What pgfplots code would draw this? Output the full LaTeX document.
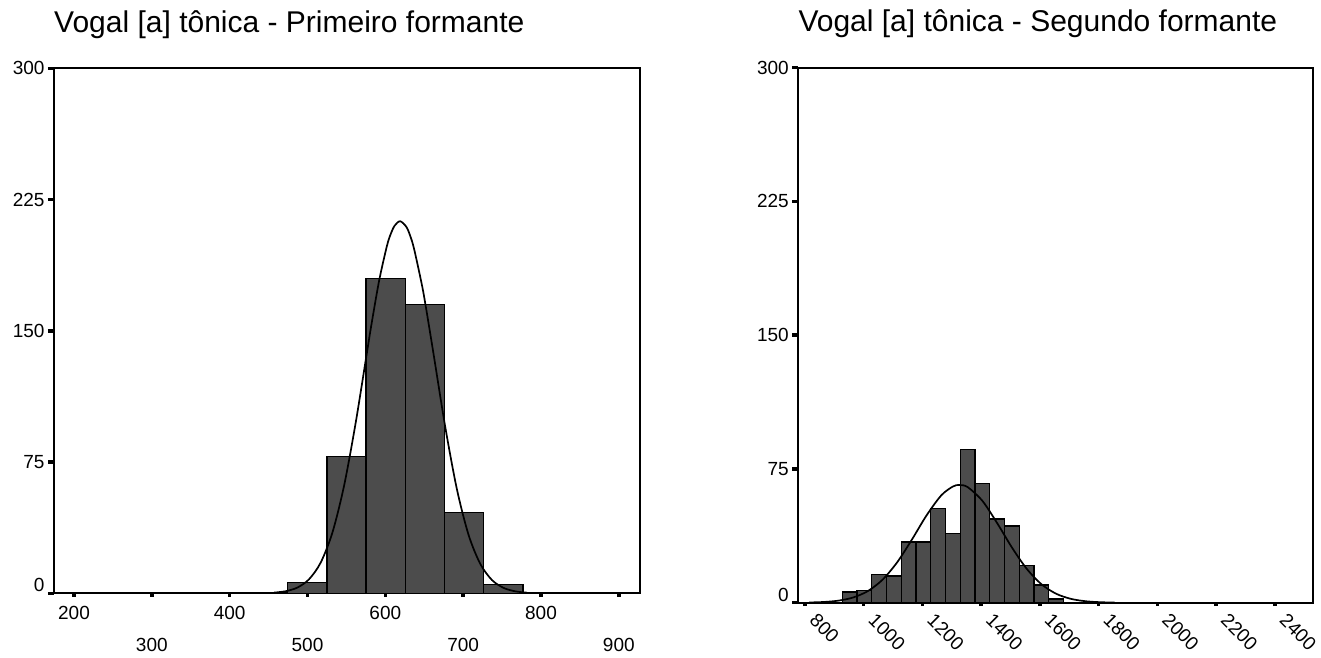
\documentclass[border=0pt]{standalone}
\usepackage{fontspec}
\setmainfont{Liberation Sans}
\usepackage{pgfplots}
\pgfplotsset{compat=1.18}
\pgfplotsset{
  spssaxis/.style={
    scale only axis,
    axis line style={line width=2pt},
    tick align=outside,
    xtick pos=bottom, ytick pos=left,
    major tick length=6pt,
    x tick style={line width=3.5pt, black, dash pattern=on 0pt off 2.5pt on 3.5pt},
    y tick style={line width=3.5pt, black},
    tick label style={font=\fontsize{19}{22}\selectfont},
    /pgf/number format/assume math mode=true,
    /pgf/number format/1000 sep={},
    title style={font=\fontsize{30}{36}\selectfont, at={(rel axis cs:0,1)}, anchor=base west, yshift=30pt, inner sep=0pt},
    ymin=0, ymax=300,
    ytick={75,150,225,300},
    extra y ticks={0},
    extra y tick style={tick label style={yshift=8pt}},
    clip=false,
  },
  barstyle/.style={ybar interval, fill=black!70, draw=black, line width=1.3pt},
  curvestyle/.style={black, line width=1.7pt, smooth, mark=none},
}
\begin{document}
\begin{tikzpicture}
\path[use as bounding box] (0pt,0pt) rectangle (1321pt,657pt);
% Left: first formant
\begin{axis}[spssaxis,
  at={(54pt,63.7pt)}, anchor=south west,
  width=586pt, height=525pt,
  xmin=174.3, xmax=927.2,
  xtick={200,400,600,800},
  xticklabel style={yshift=-3pt},
  extra x ticks={300,500,700,900},
  extra x tick style={tick label style={inner sep=0pt, yshift=-36pt}},
  title={Vogal [a] tônica - Primeiro formante},
]
\addplot[barstyle] coordinates {(474.6,6) (525,78) (575.3,180) (625.6,165) (676,46) (726.4,5) (776.7,5)};
\addplot[curvestyle] coordinates {(457,0.40) (472,1.20) (487,3.28) (502,8.03) (517,17.6) (532,34.7) (547,61.5) (562,97.7) (577,139.4) (582,153.2) (592,178.6) (602,198.4) (607,205.4) (612,210.1) (619,212.6) (627,209.4) (632,204.2) (637,196.7) (647,176.2) (652,163.8) (662,136.6) (677,95.0) (692,59.4) (707,33.3) (722,16.8) (737,7.58) (752,3.08) (767,1.12) (782,0.37)};
\end{axis}
% Right: second formant
\begin{axis}[spssaxis,
  at={(798.3pt,54.3pt)}, anchor=south west,
  width=515pt, height=535pt,
  xmin=777.2, xmax=2530.7,
  xtick={800,1000,1200,1400,1600,1800,2000,2200,2400},
  xticklabel style={xshift=13pt, yshift=-2pt, rotate=-45, anchor=north west, inner sep=1pt},
  title={Vogal [a] tônica - Segundo formante},
]
\addplot[barstyle] coordinates {(927,6) (977.2,7) (1027.4,16) (1077.6,15) (1127.8,34) (1178,34) (1228.2,53) (1278.4,39) (1328.6,86) (1378.8,67) (1429,47) (1479.2,43) (1529.4,21) (1579.6,10) (1629.8,2) (1680,2)};
\addplot[curvestyle] coordinates {(814,0.13) (864,0.41) (914,1.16) (964,2.93) (1014,6.52) (1064,12.9) (1114,22.7) (1164,35.4) (1214,49.0) (1264,60.2) (1304,65.2) (1326,66) (1354,64.8) (1404,57.1) (1454,44.7) (1504,31.1) (1554,19.2) (1604,10.5) (1654,5.11) (1704,2.21) (1754,0.85) (1804,0.29) (1854,0.09)};
\end{axis}
\end{tikzpicture}
\end{document}
